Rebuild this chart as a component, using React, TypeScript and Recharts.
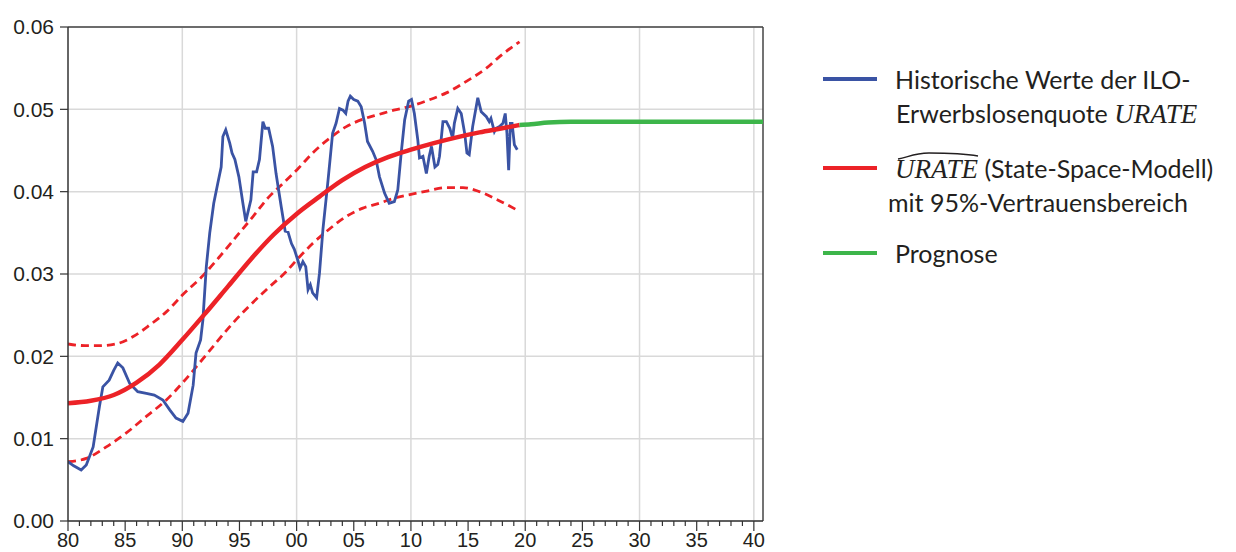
import React from "react"
import {
  LineChart, Line, XAxis, YAxis, CartesianGrid, ReferenceLine,
} from "recharts"

// historical ILO unemployment rate (quarterly-ish samples)
const HIST_YEARS = [
  1980.0, 1980.5, 1981.15, 1981.6, 1982.2, 1982.75, 1983.05, 1983.6, 1984.0, 1984.35,
  1984.8, 1985.4, 1986.1, 1986.85, 1987.55, 1988.3, 1988.9, 1989.45, 1990.05, 1990.5,
  1990.95, 1991.2, 1991.6, 1991.8, 1992.1, 1992.4, 1992.75, 1993.1, 1993.4, 1993.55,
  1993.8, 1994.15, 1994.35, 1994.6, 1994.95, 1995.3, 1995.55, 1996.0, 1996.2, 1996.5,
  1996.75, 1997.05, 1997.25, 1997.55, 1997.9, 1998.2, 1998.65, 1999.0, 1999.25, 1999.55,
  1999.8, 2000.1, 2000.3, 2000.55, 2000.8, 2001.0, 2001.2, 2001.4, 2001.75, 2002.0,
  2002.3, 2002.75, 2003.15, 2003.45, 2003.75, 2004.05, 2004.3, 2004.5, 2004.7, 2005.0,
  2005.35, 2005.65, 2005.95, 2006.2, 2006.65, 2006.95, 2007.25, 2007.7, 2008.1, 2008.55,
  2008.85, 2009.15, 2009.45, 2009.8, 2010.05, 2010.3, 2010.6, 2010.75, 2011.05, 2011.35,
  2011.6, 2011.8, 2012.1, 2012.35, 2012.5, 2012.8, 2013.1, 2013.4, 2013.65, 2013.8,
  2014.1, 2014.4, 2014.7, 2014.9, 2015.1, 2015.4, 2015.85, 2016.15, 2016.6, 2016.85,
  2017.0, 2017.3, 2017.45, 2017.75, 2018.05, 2018.25, 2018.4, 2018.55, 2018.7, 2018.85,
  2019.05, 2019.3,
]
const HIST_RATE = [
  0.0072, 0.0067, 0.0062, 0.0068, 0.0090, 0.0139, 0.0163, 0.0171, 0.0183, 0.0192,
  0.0186, 0.0167, 0.0157, 0.0155, 0.0153, 0.0147, 0.0135, 0.0125, 0.0121, 0.0131,
  0.0165, 0.0204, 0.0220, 0.0244, 0.0309, 0.0350, 0.0386, 0.0410, 0.0430, 0.0467,
  0.0475, 0.0459, 0.0447, 0.0439, 0.0418, 0.0386, 0.0364, 0.0390, 0.0424, 0.0424,
  0.0439, 0.0485, 0.0477, 0.0477, 0.0455, 0.0422, 0.0382, 0.0352, 0.0351, 0.0337,
  0.0330, 0.0317, 0.0307, 0.0315, 0.0309, 0.0281, 0.0287, 0.0277, 0.0271, 0.0301,
  0.0354, 0.0414, 0.0471, 0.0483, 0.0501, 0.0499, 0.0495, 0.0510, 0.0516, 0.0512,
  0.0510, 0.0503, 0.0483, 0.0461, 0.0449, 0.0439, 0.0418, 0.0398, 0.0386, 0.0388,
  0.0402, 0.0447, 0.0487, 0.0510, 0.0512, 0.0495, 0.0463, 0.0441, 0.0443, 0.0422,
  0.0443, 0.0455, 0.0430, 0.0433, 0.0443, 0.0485, 0.0485, 0.0477, 0.0465, 0.0483,
  0.0501, 0.0495, 0.0471, 0.0447, 0.0445, 0.0479, 0.0514, 0.0497, 0.0491, 0.0485,
  0.0489, 0.0473, 0.0477, 0.0479, 0.0483, 0.0495, 0.0471, 0.0426, 0.0483, 0.0483,
  0.0457, 0.0451,
]

// smoothed state-space estimate
const FIT_YEARS = [
  1980, 1982, 1984, 1986, 1988, 1990, 1992, 1994, 1996, 1998,
  2000, 2002, 2004, 2006, 2008, 2010, 2012, 2014, 2016, 2018, 2019.5,
]
const FIT_RATE = [
  0.0143, 0.0146, 0.0153, 0.0168, 0.0190, 0.0220, 0.0252, 0.0285, 0.0318, 0.0348,
  0.0373, 0.0394, 0.0414, 0.0430, 0.0442, 0.0451, 0.0459, 0.0466, 0.0472, 0.0477, 0.0481,
]

// 95% band
const UPPER_YEARS = [
  1980, 1981.5, 1982.75, 1984.2, 1985.7, 1987.15, 1988.6, 1990.05, 1991.8, 1993.2,
  1994.7, 1996.2, 1997.6, 1998.5, 2000.2, 2001.4, 2002.9, 2004.35, 2005.8, 2007.25,
  2008.5, 2009.75, 2011.5, 2013.1, 2014.85, 2016.6, 2017.75, 2019.5,
]
const UPPER_RATE = [
  0.0215, 0.0213, 0.0213, 0.0215, 0.0224, 0.0238, 0.0254, 0.0275, 0.0298, 0.0320,
  0.0345, 0.0370, 0.0394, 0.0406, 0.0429, 0.0447, 0.0465, 0.0479, 0.0488, 0.0494,
  0.0499, 0.0503, 0.0511, 0.0520, 0.0534, 0.0550, 0.0564, 0.0582,
]
const LOWER_YEARS = [
  1980, 1981.6, 1983.35, 1985.1, 1986.85, 1988.6, 1990.35, 1992.1, 1994.4, 1997.35,
  1999.1, 2000.2, 2001.4, 2002.9, 2004.35, 2005.8, 2007.25, 2008.5, 2009.75, 2011.5,
  2013.1, 2014.55, 2016, 2017.45, 2019.5,
]
const LOWER_RATE = [
  0.0072, 0.0076, 0.0090, 0.0107, 0.0127, 0.0147, 0.0173, 0.0202, 0.0240, 0.0281,
  0.0303, 0.0320, 0.0337, 0.0355, 0.0370, 0.0380, 0.0386, 0.0392, 0.0396, 0.0401,
  0.0405, 0.0405, 0.0400, 0.0391, 0.0376,
]

// forecast
const FORECAST_YEARS = [2019.5, 2020.5, 2022, 2024, 2026, 2030, 2035, 2040.8]
const FORECAST_RATE = [0.0481, 0.0482, 0.0484, 0.0485, 0.0485, 0.0485, 0.0485, 0.0485]

const Y_TICKS = [0, 0.01, 0.02, 0.03, 0.04, 0.05, 0.06]
const YEAR_TICKS = Array.from({ length: 61 }, (_, i) => 1980 + i)
const DECADE_LINES = [1990, 2000, 2010, 2020, 2030, 2040]
const X_MAX = 2040.8

const zip = (ts: number[], vs: number[]) => ts.map((t, i) => ({ t, v: vs[i] }))

const hist = zip(HIST_YEARS, HIST_RATE)
const fit = zip(FIT_YEARS, FIT_RATE)
const upper = zip(UPPER_YEARS, UPPER_RATE)
const lower = zip(LOWER_YEARS, LOWER_RATE)
const forecast = zip(FORECAST_YEARS, FORECAST_RATE)

const AXIS_FONT = "'Liberation Sans', Arial, sans-serif"
const LEGEND_FONT = "Lato, 'Open Sans', sans-serif"
const MATH_FONT = "'Liberation Serif', 'Times New Roman', serif"
const INK = "#231f20"

const BLUE = "#3a53a4"
const RED = "#ec2227"
const GREEN = "#3db54a"

// yearly minor ticks, longer ticks + two-digit labels every 5 years
function YearTick({ x, y, payload }: any) {
  const yr = payload.value as number
  const major = yr % 5 === 0
  return (
    <g>
      <line x1={x} x2={x} y1={y} y2={y + (major ? 10 : 5)} stroke="#333" strokeWidth={1.2} />
      {major && (
        <text x={x} y={y + 26} textAnchor="middle" fontSize={20} fill={INK} fontFamily={AXIS_FONT}>
          {String(yr % 100).padStart(2, "0")}
        </text>
      )}
    </g>
  )
}

function Urate({ hat }: { hat?: boolean }) {
  return (
    <span style={{ position: "relative", fontFamily: MATH_FONT, fontStyle: "italic", fontSize: 27 }}>
      {hat && (
        <svg width={82} height={10} style={{ position: "absolute", left: 2, top: -3 }}>
          <path d="M1 8 C 10 7, 16 2, 32 2 C 50 2, 64 2, 81 5" fill="none" stroke={INK} strokeWidth={1.4} />
        </svg>
      )}
      URATE
    </span>
  )
}

function LegendRow({ top, left, children }: { top: number; left: number; children: React.ReactNode }) {
  return (
    <div style={{ position: "absolute", top: top - 17, left, height: 34, lineHeight: "34px", whiteSpace: "nowrap" }}>
      {children}
    </div>
  )
}

function Swatch({ top, color }: { top: number; color: string }) {
  return <div style={{ position: "absolute", left: 815, top: top - 2, width: 54, height: 4, background: color }} />
}

export default function App() {
  return (
    <div style={{ position: "relative", width: 1220, height: 544 }}>
      <LineChart width={1220} height={544} margin={{ top: 19, right: 465, left: 0, bottom: 0 }}>
        <CartesianGrid vertical={false} stroke="#d9d9d9" strokeWidth={1.5} />
        {DECADE_LINES.map((d) => (
          <ReferenceLine key={d} x={d} stroke="#d9d9d9" strokeWidth={1.5} />
        ))}
        <XAxis
          dataKey="t"
          type="number"
          domain={[1980, X_MAX]}
          allowDataOverflow
          ticks={YEAR_TICKS}
          interval={0}
          tick={<YearTick />}
          tickSize={0}
          tickMargin={0}
          tickLine={false}
          height={31}
          axisLine={{ stroke: "#333", strokeWidth: 1.5 }}
        />
        <YAxis
          type="number"
          domain={[0, 0.06]}
          ticks={Y_TICKS}
          width={60}
          tickSize={8}
          tickMargin={6}
          tickFormatter={(v: number) => v.toFixed(2)}
          tick={{ fill: INK, fontSize: 21, fontFamily: AXIS_FONT }}
          tickLine={{ stroke: "#333", strokeWidth: 1.2 }}
          axisLine={{ stroke: "#333", strokeWidth: 1.5 }}
        />
        <ReferenceLine y={0.06} stroke="#444" strokeWidth={1.5} />
        <ReferenceLine x={X_MAX} stroke="#444" strokeWidth={1.5} />
        <Line data={upper} dataKey="v" type="monotone" stroke={RED} strokeWidth={2.8}
          strokeDasharray="8 5" dot={false} isAnimationActive={false} />
        <Line data={lower} dataKey="v" type="monotone" stroke={RED} strokeWidth={2.8}
          strokeDasharray="8 5" dot={false} isAnimationActive={false} />
        <Line data={hist} dataKey="v" type="linear" stroke={BLUE} strokeWidth={2.8}
          dot={false} isAnimationActive={false} />
        <Line data={fit} dataKey="v" type="monotone" stroke={RED} strokeWidth={4.5}
          dot={false} isAnimationActive={false} />
        <Line data={forecast} dataKey="v" type="monotone" stroke={GREEN} strokeWidth={4.5}
          dot={false} isAnimationActive={false} />
      </LineChart>

      <div style={{ position: "absolute", left: 0, top: 0, fontFamily: LEGEND_FONT, fontSize: 25, color: INK }}>
        <Swatch top={71} color={BLUE} />
        <LegendRow top={71} left={887}>Historische Werte der ILO-</LegendRow>
        <LegendRow top={105} left={888}>Erwerbslosenquote <Urate /></LegendRow>
        <Swatch top={160} color={RED} />
        <LegendRow top={160} left={887}><Urate hat /> (State-Space-Modell)</LegendRow>
        <LegendRow top={194} left={880}>mit 95%-Vertrauensbereich</LegendRow>
        <Swatch top={245} color={GREEN} />
        <LegendRow top={245} left={887}>Prognose</LegendRow>
      </div>
    </div>
  )
}
